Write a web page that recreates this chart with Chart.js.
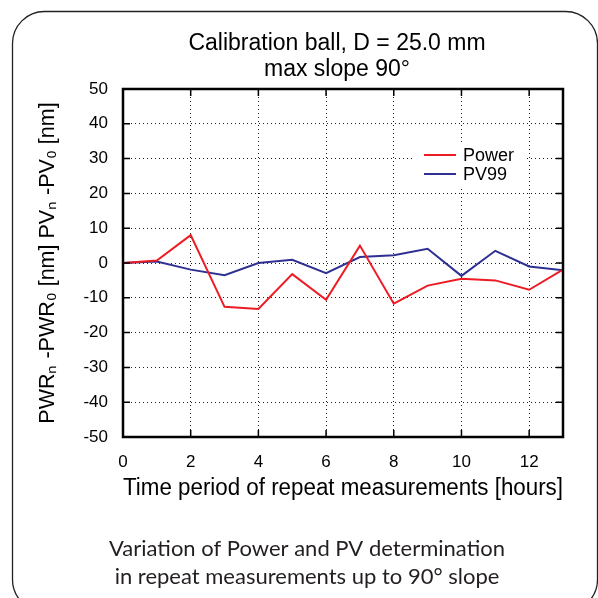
<!DOCTYPE html>
<html>
<head>
<meta charset="utf-8">
<script src="https://cdn.jsdelivr.net/npm/chart.js@4.4.1/dist/chart.umd.min.js"></script>
<style>
  html, body { margin: 0; padding: 0; background: #fff; }
  #graph_plot { display: block; }
</style>
</head>
<body>
<canvas id="graph_plot" width="598" height="598"></canvas>
<script>
// hours since first measurement
const hours = [0, 1, 2, 3, 4, 5, 6, 7, 8, 9, 10, 11, 12, 13];
// PWR_n - PWR_0 [nm]
const powerValues = [0, 0.7, 8.0, -12.6, -13.2, -3.2, -10.6, 5.0, -11.7, -6.5, -4.5, -5.0, -7.7, -1.9];
// PV_n - PV_0 [nm]
const pv99Values = [0, 0.4, -1.9, -3.5, 0, 0.9, -2.9, 1.7, 2.2, 4.1, -3.7, 3.5, -1.0, -2.1];

const xTicks = [0, 2, 4, 6, 8, 10, 12];
const yTicks = [-50, -40, -30, -20, -10, 0, 10, 20, 30, 40, 50];

const titleLines = ["Calibration ball, D = 25.0 mm", "max slope 90\u00b0"];
const captionLines = ["Variation of Power and PV determination", "in repeat measurements up to 90\u00b0 slope"];
const xTitle = "Time period of repeat measurements [hours]";
const yTitle = "PWR\u2099 -PWR\u2080 [nm] PV\u2099 -PV\u2080 [nm]";

const canvas = document.getElementById("graph_plot");
const axisFont = "'Liberation Sans', Arial, sans-serif";

const toPoints = (vals) => vals.map((v, i) => ({ x: hours[i], y: vals[i] }));

// rounded frame, titles and caption
const decorations = {
  id: "decorations",
  beforeDraw(chart) {
    const ctx = chart.ctx;
    ctx.save();
    ctx.fillStyle = "#fff";
    ctx.fillRect(0, 0, chart.width, chart.height);
    ctx.strokeStyle = "#222";
    ctx.lineWidth = 1.3;
    ctx.beginPath();
    ctx.roundRect(12.5, 11.5, 585, 600, 32);
    ctx.stroke();

    ctx.fillStyle = "#000";
    ctx.textAlign = "center";
    ctx.textBaseline = "middle";
    ctx.font = "23px " + axisFont;
    ctx.fillText(titleLines[0], 337, 44);
    ctx.fillText(titleLines[1], 337, 70);

    ctx.fillStyle = "#231f20";
    ctx.font = "22px Lato, 'Open Sans', sans-serif";
    ctx.fillText(captionLines[0], 307, 549);
    ctx.fillText(captionLines[1], 307, 577);
    ctx.restore();
  }
};

// plot border, inward ticks and inset legend
const plotFrame = {
  id: "plotFrame",
  afterDatasetsDraw(chart) {
    const { ctx, chartArea: a, scales } = chart;
    ctx.save();

    // legend box
    const lx = 424, ly = 155, gap = 19;
    ctx.fillStyle = "#fff";
    ctx.fillRect(414, 142, 112, 44);
    ctx.font = "18px " + axisFont;
    ctx.textAlign = "left";
    ctx.textBaseline = "middle";
    chart.data.datasets.forEach((ds, i) => {
      const y = ly + i * gap;
      ctx.strokeStyle = ds.borderColor;
      ctx.lineWidth = 2;
      ctx.beginPath();
      ctx.moveTo(lx, y);
      ctx.lineTo(lx + 32, y);
      ctx.stroke();
      ctx.fillStyle = "#000";
      ctx.fillText(ds.label, lx + 39, y + 1);
    });

    ctx.strokeStyle = "#000";
    ctx.lineWidth = 1.5;
    const t = 7;
    yTicks.forEach((v) => {
      const y = scales.y.getPixelForValue(v);
      ctx.beginPath();
      ctx.moveTo(a.left, y); ctx.lineTo(a.left + t, y);
      ctx.moveTo(a.right, y); ctx.lineTo(a.right - t, y);
      ctx.stroke();
    });
    xTicks.forEach((v) => {
      const x = scales.x.getPixelForValue(v);
      ctx.beginPath();
      ctx.moveTo(x, a.bottom); ctx.lineTo(x, a.bottom - t);
      ctx.moveTo(x, a.top); ctx.lineTo(x, a.top + t);
      ctx.stroke();
    });

    ctx.lineWidth = 2.5;
    ctx.strokeRect(a.left, a.top, a.right - a.left, a.bottom - a.top);
    ctx.restore();
  }
};

new Chart(canvas, {
  type: "line",
  data: {
    datasets: [
      {
        label: "Power",
        data: toPoints(powerValues),
        borderColor: "rgb(237, 28, 36)",
        borderWidth: 2,
        pointRadius: 0,
        tension: 0
      },
      {
        label: "PV99",
        data: toPoints(pv99Values),
        borderColor: "rgb(46, 49, 146)",
        borderWidth: 2,
        pointRadius: 0,
        tension: 0
      }
    ]
  },
  options: {
    responsive: false,
    animation: false,
    layout: { padding: { left: 0, top: 89, right: 35, bottom: 91 } },
    plugins: {
      legend: { display: false },
      tooltip: { enabled: false }
    },
    scales: {
      x: {
        type: "linear",
        position: "bottom",
        min: 0,
        max: 13,
        afterBuildTicks: (s) => { s.ticks = xTicks.map((v) => ({ value: v })); },
        afterFit: (s) => { s.height = 70; },
        grid: { color: "#222", lineWidth: 1, drawTicks: false },
        // in v4 border.dash is what dashes the grid lines
        border: { display: false, dash: [1, 3] },
        ticks: { padding: 15, color: "#000", font: { family: axisFont, size: 17 }, maxRotation: 0 },
        title: {
          display: true,
          text: xTitle,
          color: "#000",
          font: { family: axisFont, size: 23.5 },
          padding: { top: 0, bottom: 4 }
        }
      },
      y: {
        min: -50,
        max: 50,
        afterBuildTicks: (s) => { s.ticks = yTicks.map((v) => ({ value: v })); },
        afterFit: (s) => { s.width = 123; },
        grid: { color: "#222", lineWidth: 1, drawTicks: false },
        border: { display: false, dash: [1, 3] },
        ticks: { padding: 15, color: "#000", font: { family: axisFont, size: 17 } },
        title: {
          display: true,
          text: yTitle,
          color: "#000",
          font: { family: axisFont, size: 21.5 },
          align: "center",
          padding: { top: 35, bottom: 0 }
        }
      }
    }
  },
  plugins: [decorations, plotFrame]
});
</script>
</body>
</html>
